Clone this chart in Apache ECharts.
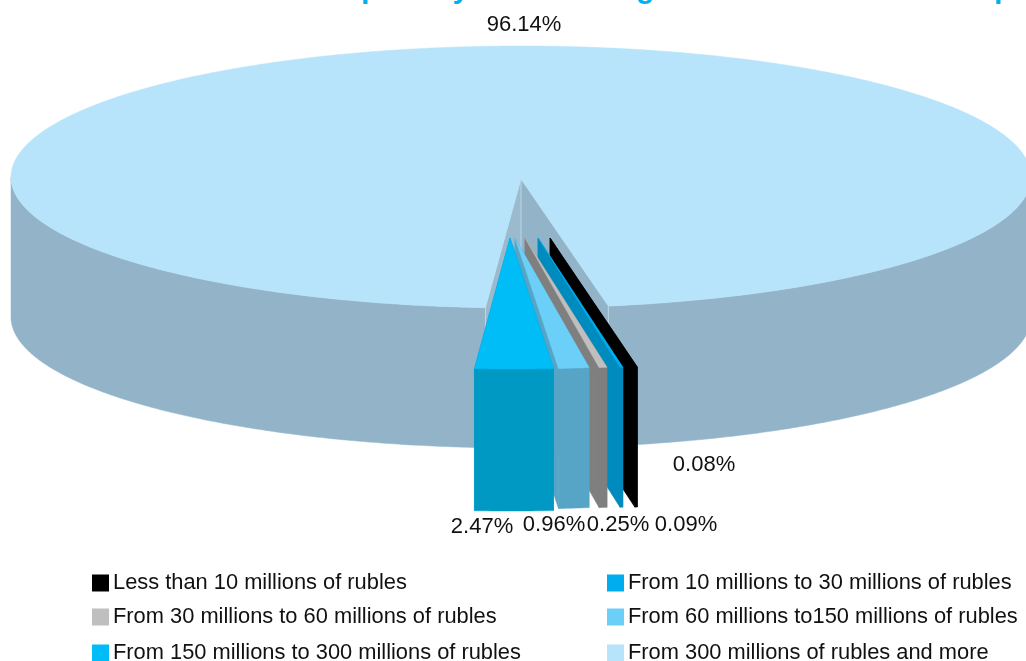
<!DOCTYPE html>
<html>
<head>
<meta charset="utf-8">
<style>html,body{margin:0;padding:0;background:#fff;overflow:hidden}#c{width:1026px;height:661px}</style>
<script src="https://cdn.jsdelivr.net/npm/echarts@6/dist/echarts.min.js"></script>
</head>
<body>
<div id="c"></div>
<script>
// Data, in the clockwise drawing order starting from the front of the pie
const categories = [
  'From 150 millions to 300 millions of rubles',
  'From 60 millions to150 millions of rubles',
  'From 30 millions to 60 millions of rubles',
  'From 10 millions to 30 millions of rubles',
  'Less than 10 millions of rubles',
  'From 300 millions of rubles and more'
];
const shares = [2.47, 0.96, 0.25, 0.09, 0.08, 96.14];
const legendOrder = [4, 3, 2, 1, 0, 5];
const titleFragments = ['p', 'y', 'g', 'p'];

// Styles and layout
const topColors = ['#00BCF7', '#6CCFF8', '#BFBFBF', '#00AEEF', '#000000', '#B7E4FA'];
const sideColors = ['#0099C4', '#56A5C6', '#7F7F7F', '#008BBF', '#000000', '#93B4C8'];
const explodeX = [-11, -6, 4, 17, 29, 0];
const explodeY = [61, 61, 61, 61, 61, 0];
const depths = [142, 140, 140, 140, 140, 140];
const labelX = [482, 554, 618, 686, 704, 524];
const labelY = [527, 525, 525, 525, 465, 25];
const legendLeft = [92, 607, 92, 607, 92, 607];
const legendTop = [572, 572, 606, 606, 642, 642];
const titleX = [370.5, 461, 645.5, 1003.5];
const cx = 521, cy = 177, rx = 510, ry = 131;
const rotation = -4.0;

const total = shares.reduce((a, b) => a + b, 0);
const starts = [];
shares.reduce((acc, v, i) => { starts[i] = acc; return acc + v / total * 360; }, rotation);

function pt(deg, ox, oy) {
  const t = deg * Math.PI / 180;
  return [cx + ox + rx * Math.sin(t), cy + oy + ry * Math.cos(t)];
}
function arc(a, b, ox, oy) {
  const n = Math.max(2, Math.ceil(Math.abs(b - a) * 2));
  const out = [];
  for (let i = 0; i <= n; i++) out.push(pt(a + (b - a) * i / n, ox, oy));
  return out;
}
const poly = (points, fill) => ({ type: 'polygon', shape: { points }, style: { fill, stroke: fill, lineWidth: 0.5 } });
const edge = (a, b) => ({ type: 'line', shape: { x1: a[0], y1: a[1], x2: b[0], y2: b[1] }, style: { stroke: '#BCD6E4', lineWidth: 1 } });

function makeRender(i) {
  const drop = p => [p[0], p[1] + depths[i]];
  return function (params, api) {
    const value = api.value(0);
    const sweep = value / total * 360;
    const a = starts[i], b = a + sweep;
    const ox = explodeX[i], oy = explodeY[i];
    const children = [];
    const apex = [cx + ox, cy + oy + (i === 5 ? 2 : 0)];
    if (i === 5) {
      const gapL = rotation + 360, gapR = a;
      const sideR = arc(gapR, 90, 0, 0);
      const sideL = arc(270, gapL, 0, 0);
      children.push(poly(sideR.concat(sideR.map(drop).reverse()), sideColors[i]));
      children.push(poly(sideL.concat(sideL.map(drop).reverse()), sideColors[i]));
      const pL = pt(gapL, 0, 0), pR = pt(gapR, 0, 0);
      children.push(poly([apex, pL, drop(pL), drop(apex)], '#9BBACD'));
      children.push(poly([apex, pR, drop(pR), drop(apex)], sideColors[i]));
      children.push(edge(apex, drop(apex)), edge(pL, drop(pL)), edge(pR, drop(pR)));
      children.push(poly([apex].concat(arc(a, b, 0, 0)), topColors[i]));
    } else {
      const rim = arc(a, b, ox, oy);
      const pA = rim[0], pB = rim[rim.length - 1];
      children.push(poly([apex, pA, drop(pA), drop(apex)], sideColors[i]));
      children.push(poly([apex, pB, drop(pB), drop(apex)], sideColors[i]));
      children.push(poly(rim.concat(rim.map(drop).reverse()), sideColors[i]));
      children.push(poly([apex].concat(rim), topColors[i]));
    }
    children.push({
      type: 'text',
      style: {
        x: labelX[i], y: labelY[i], text: value.toFixed(2) + '%',
        fill: '#111', font: '22px "Liberation Sans"', align: 'center', verticalAlign: 'middle'
      }
    });
    return { type: 'group', children };
  };
}

// Main slice first, then the exploded slices from the rightmost to the leftmost
const drawOrder = [5, 4, 3, 2, 1, 0];
const series = drawOrder.map(i => ({
  type: 'custom',
  name: categories[i],
  coordinateSystem: 'none',
  data: [[shares[i]]],
  renderItem: makeRender(i),
  itemStyle: { color: topColors[i] },
  silent: true,
  clip: false,
  animation: false
}));

const legend = legendOrder.map((idx, k) => ({
  data: [{ name: categories[idx], itemStyle: { color: topColors[idx] } }],
  left: legendLeft[k],
  top: legendTop[k],
  padding: 0,
  itemWidth: 17,
  itemHeight: 17,
  itemGap: 0,
  icon: 'rect',
  selectedMode: false,
  textStyle: { color: '#111', fontSize: 21.85, fontFamily: 'Liberation Sans', padding: [0, 0, 3, -1] }
}));

const titleBits = titleFragments.map((s, k) => ({
  type: 'text',
  silent: true,
  style: {
    x: titleX[k], y: -10, text: s, fill: '#00B0F0',
    font: 'bold 30px "Liberation Sans"', align: 'center', verticalAlign: 'middle'
  }
}));

const chart = echarts.init(document.getElementById('c'), null, { renderer: 'canvas' });
chart.setOption({
  animation: false,
  backgroundColor: '#fff',
  legend,
  series,
  graphic: titleBits
});
</script>
</body>
</html>
